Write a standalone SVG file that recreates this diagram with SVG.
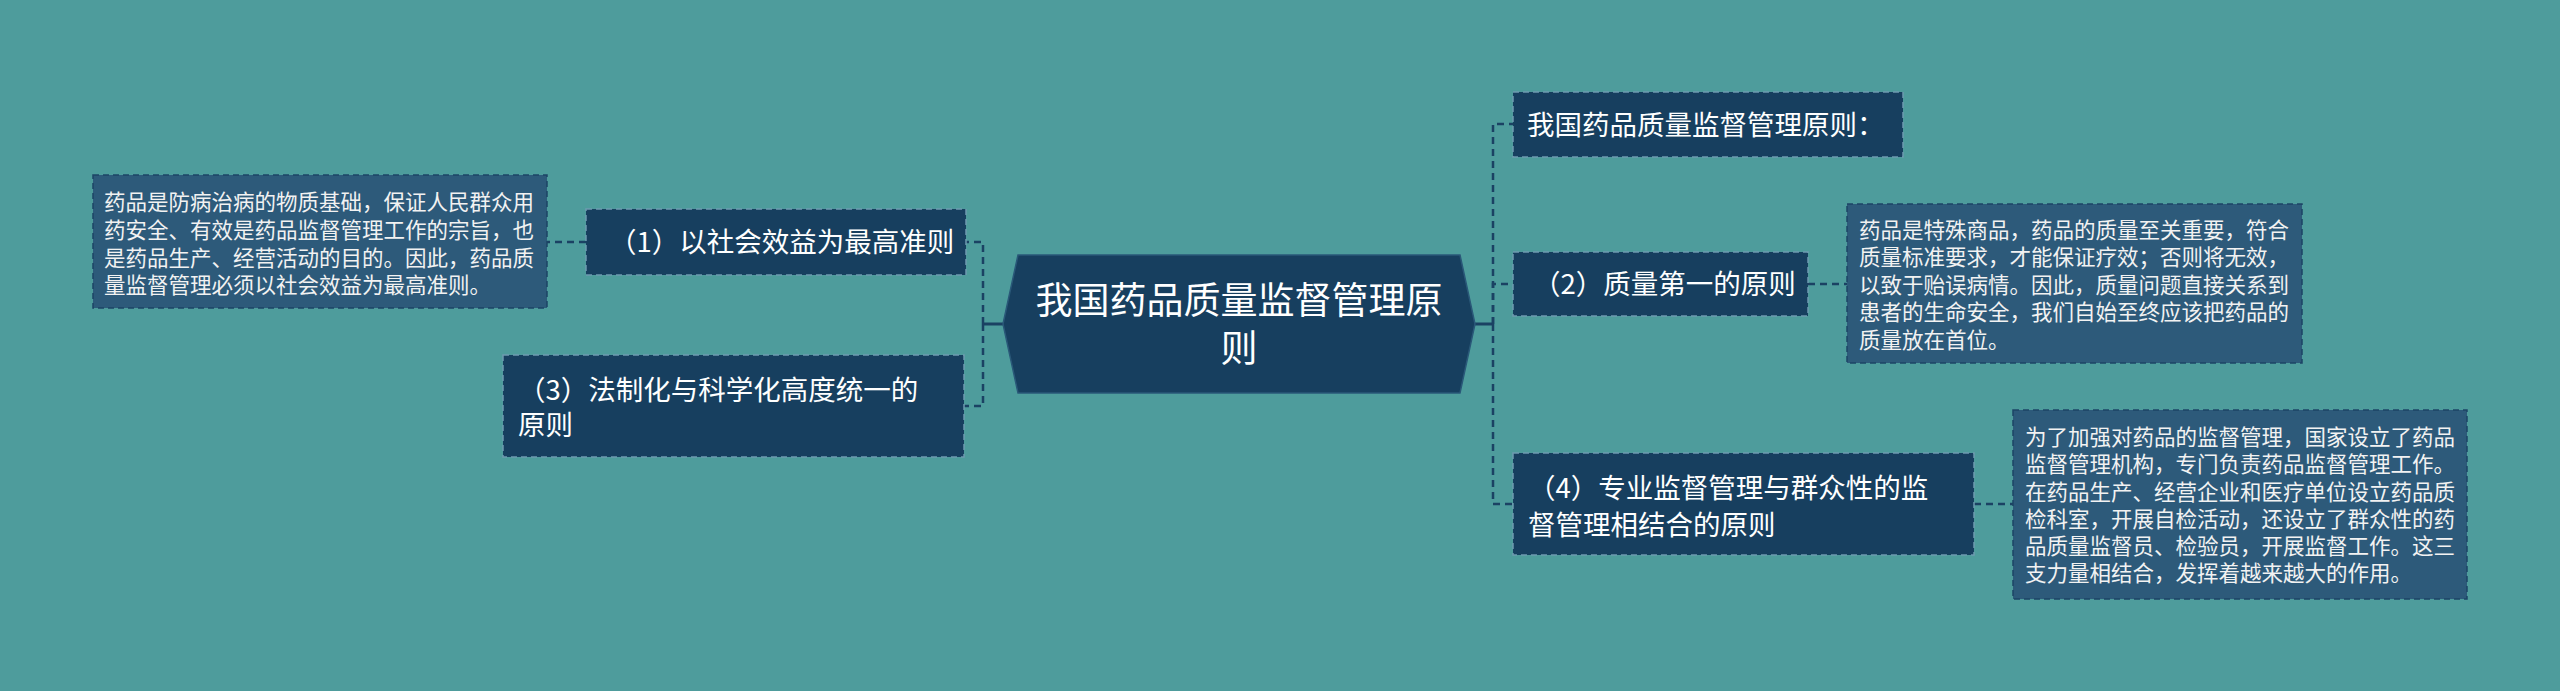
<svg xmlns="http://www.w3.org/2000/svg" width="2560" height="691" viewBox="0 0 2560 691">
<style>
.bg{fill:#4e9c9c}
.node{fill:#173f5f;stroke:#6e9bb0;stroke-width:1.5;stroke-dasharray:6 4}
.leaf{fill:#2d5a7a;stroke:#1d4465;stroke-width:1.5;stroke-dasharray:6 4}
.t{font-family:"Noto Sans CJK SC","Noto Sans",sans-serif;fill:#ffffff}
.tn{font-size:27.5px}
.tl{font-size:21.5px;fill:#f2f2f2}
.tc{font-size:37px}
.dash{fill:none;stroke:#1b4263;stroke-width:2.5;stroke-dasharray:7 5}
.solid{fill:none;stroke:#1b4263;stroke-width:3}
</style>
<rect class="bg" x="0" y="0" width="2560" height="691"/>
<g id="connectors">
<path class="solid" d="M1003,324 H983"/>
<path class="dash" d="M983,324 V242 H966"/>
<path class="dash" d="M983,324 V406 H964"/>
<path class="dash" d="M586,242 H547"/>
<path class="solid" d="M1475,324 H1493"/>
<path class="dash" d="M1493,324 V124 H1513"/>
<path class="dash" d="M1493,324 V284 H1513"/>
<path class="dash" d="M1493,324 V504 H1513"/>
<path class="dash" d="M1808,284 H1847"/>
<path class="dash" d="M1974,504 H2013"/>
</g>
<g id="center">
<polygon points="1003,324 1018,255 1460,255 1475,324 1460,393 1018,393" fill="#173f5f" stroke="#2a5878" stroke-width="1.5"/>
<text class="t tc" x="1239" y="314" text-anchor="middle">我国药品质量监督管理原</text>
<text class="t tc" x="1239" y="362" text-anchor="middle">则</text>
</g>
<g id="node1">
<rect class="node" x="586" y="209" width="380" height="66"/>
<text class="t tn" x="609" y="252">（1）以社会效益为最高准则</text>
</g>
<g id="leaf1">
<rect class="leaf" x="93" y="175" width="454" height="133"/>
<text class="t tl" x="104" y="210">药品是防病治病的物质基础，保证人民群众用</text>
<text class="t tl" x="104" y="238">药安全、有效是药品监督管理工作的宗旨，也</text>
<text class="t tl" x="104" y="266">是药品生产、经营活动的目的。因此，药品质</text>
<text class="t tl" x="104" y="293">量监督管理必须以社会效益为最高准则。</text>
</g>
<g id="node3">
<rect class="node" x="503" y="355" width="461" height="102"/>
<text class="t tn" x="518" y="400">（3）法制化与科学化高度统一的</text>
<text class="t tn" x="518" y="435">原则</text>
</g>
<g id="node0">
<rect class="node" x="1513" y="92" width="390" height="65"/>
<text class="t tn" x="1527" y="135">我国药品质量监督管理原则：</text>
</g>
<g id="node2">
<rect class="node" x="1513" y="252" width="295" height="64"/>
<text class="t tn" x="1533" y="294">（2）质量第一的原则</text>
</g>
<g id="leaf2">
<rect class="leaf" x="1847" y="204" width="455" height="159"/>
<text class="t tl" x="1859" y="238">药品是特殊商品，药品的质量至关重要，符合</text>
<text class="t tl" x="1859" y="265">质量标准要求，才能保证疗效；否则将无效，</text>
<text class="t tl" x="1859" y="293">以致于贻误病情。因此，质量问题直接关系到</text>
<text class="t tl" x="1859" y="320">患者的生命安全，我们自始至终应该把药品的</text>
<text class="t tl" x="1859" y="348">质量放在首位。</text>
</g>
<g id="node4">
<rect class="node" x="1513" y="453" width="461" height="102"/>
<text class="t tn" x="1528" y="498">（4）专业监督管理与群众性的监</text>
<text class="t tn" x="1528" y="535">督管理相结合的原则</text>
</g>
<g id="leaf4">
<rect class="leaf" x="2013" y="410" width="454" height="189"/>
<text class="t tl" x="2025" y="445">为了加强对药品的监督管理，国家设立了药品</text>
<text class="t tl" x="2025" y="472">监督管理机构，专门负责药品监督管理工作。</text>
<text class="t tl" x="2025" y="500">在药品生产、经营企业和医疗单位设立药品质</text>
<text class="t tl" x="2025" y="527">检科室，开展自检活动，还设立了群众性的药</text>
<text class="t tl" x="2025" y="554">品质量监督员、检验员，开展监督工作。这三</text>
<text class="t tl" x="2025" y="581">支力量相结合，发挥着越来越大的作用。</text>
</g>
</svg>
